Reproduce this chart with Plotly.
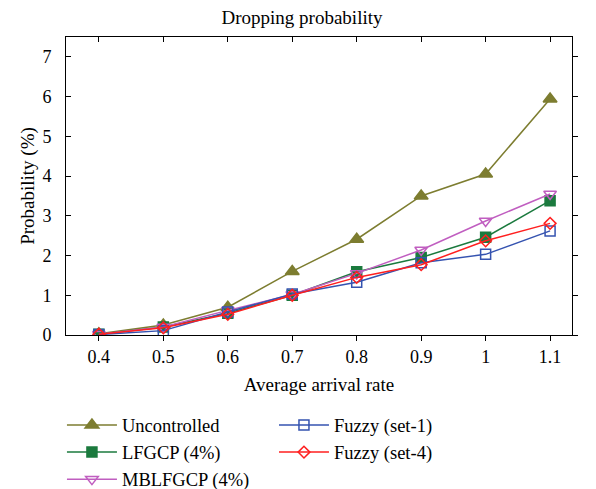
import plotly.graph_objects as go

x_rate = [0.4, 0.5, 0.6, 0.7, 0.8, 0.9, 1.0, 1.1]
uncontrolled = [0.03, 0.25, 0.70, 1.60, 2.41, 3.50, 4.05, 5.94]
lfgcp = [0.02, 0.20, 0.55, 1.00, 1.59, 1.95, 2.46, 3.38]
mblfgcp = [0.02, 0.20, 0.62, 1.02, 1.55, 2.14, 2.87, 3.55]
fuzzy1 = [0.01, 0.11, 0.58, 1.03, 1.33, 1.82, 2.03, 2.62]
fuzzy4 = [0.02, 0.18, 0.52, 1.00, 1.45, 1.77, 2.37, 2.81]

x_ticks = [0.4, 0.5, 0.6, 0.7, 0.8, 0.9, 1.0, 1.1]
x_ticklabels = ["0.4", "0.5", "0.6", "0.7", "0.8", "0.9", "1", "1.1"]
y_ticks = [0, 1, 2, 3, 4, 5, 6, 7]

FONT = "Liberation Serif"

series = [
    ("Uncontrolled", uncontrolled, "#7d7d30", "triangle-up", 12, "legend"),
    ("LFGCP (4%)", lfgcp, "#1b7a3e", "square", 10, "legend"),
    ("MBLFGCP (4%)", mblfgcp, "#c05ec0", "triangle-down-open", 11, "legend"),
    ("Fuzzy (set-1)", fuzzy1, "#3553b0", "square-open", 10, "legend2"),
    ("Fuzzy (set-4)", fuzzy4, "#ff1f1f", "diamond-open", 9, "legend2"),
]

fig = go.Figure()
for name, vals, color, sym, size, leg in series:
    fig.add_trace(go.Scatter(
        x=x_rate, y=vals, name=name, mode="lines+markers",
        line=dict(color=color, width=1.5),
        marker=dict(symbol=sym, size=size, color=color, line=dict(color=color, width=1.5)),
        legend=leg,
    ))

xr = [0.349, 1.134]
yr = [0, 7.5]
axis_common = dict(showline=True, linecolor="black", linewidth=1, showgrid=False,
                   zeroline=False, ticklen=5, tickcolor="black", automargin=False,
                   tickfont=dict(family=FONT, size=18, color="black"))

# page body has an 8px margin; figure sized so the plot lands where the reference has it
fig.update_layout(
    width=588, height=481,
    margin=dict(l=58, r=24, t=29, b=154, autoexpand=False),
    plot_bgcolor="white", paper_bgcolor="white",
    font=dict(family=FONT, size=18, color="black"),
    title=dict(text="Dropping probability", x=0.5, xanchor="center", y=0.98, yanchor="middle",
               font=dict(family=FONT, size=19, color="black")),
    xaxis=dict(range=xr, tickvals=x_ticks, ticktext=x_ticklabels, ticks="outside",
               title=dict(text="Average arrival rate", font=dict(family=FONT, size=19), standoff=12),
               **axis_common),
    yaxis=dict(range=yr, tickvals=y_ticks, ticks="inside", ticklabelstandoff=10,
               title=dict(text="Probability (%)", font=dict(family=FONT, size=19), standoff=2),
               **axis_common),
    xaxis2=dict(range=xr, tickvals=x_ticks, ticks="inside", showticklabels=False,
                overlaying="x", side="top", anchor="y", showline=True, linecolor="black",
                showgrid=False, zeroline=False, ticklen=5, tickcolor="black"),
    yaxis2=dict(range=yr, tickvals=y_ticks, ticks="outside", showticklabels=False,
                overlaying="y", side="right", anchor="x", showline=True, linecolor="black",
                showgrid=False, zeroline=False, ticklen=5, tickcolor="black"),
    legend=dict(x=-0.008, y=-0.24, xanchor="left", yanchor="top", orientation="v",
                font=dict(family=FONT, size=18.5), bgcolor="rgba(0,0,0,0)", tracegroupgap=0,
                itemwidth=50),
    legend2=dict(x=0.411, y=-0.24, xanchor="left", yanchor="top", orientation="v",
                 font=dict(family=FONT, size=18.5), bgcolor="rgba(0,0,0,0)", tracegroupgap=0,
                 itemwidth=50),
)

fig.add_trace(go.Scatter(x=[None], y=[None], xaxis="x2", yaxis="y2", showlegend=False, hoverinfo="skip"))

fig.write_html("out.html")
